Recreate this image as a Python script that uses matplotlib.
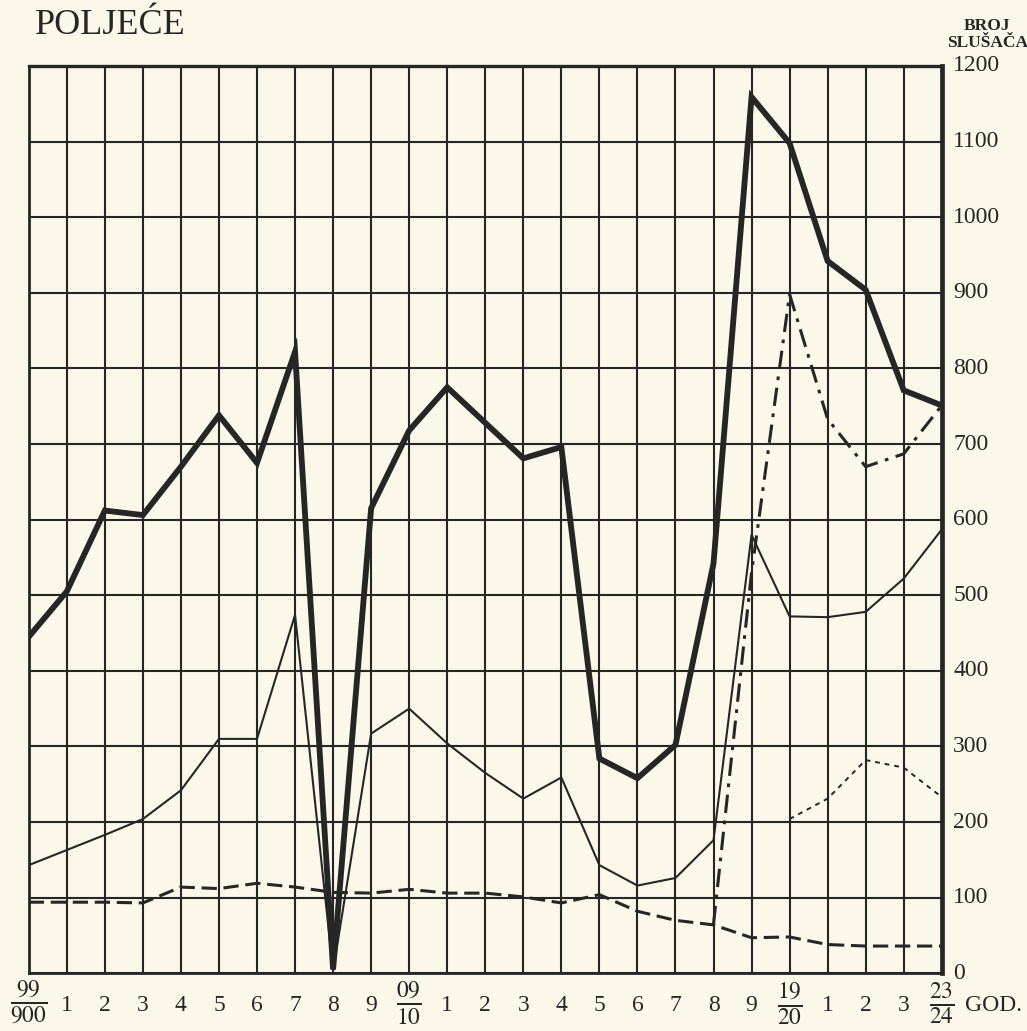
import numpy as np
import matplotlib
matplotlib.use("Agg")
import matplotlib.pyplot as plt

# school years 1899/1900 .. 1923/24
years = list(range(25))
year_labels = [r"$\frac{99}{900}$", "1", "2", "3", "4", "5", "6", "7", "8", "9",
               r"$\frac{09}{10}$", "1", "2", "3", "4", "5", "6", "7", "8", "9",
               r"$\frac{19}{20}$", "1", "2", "3", r"$\frac{23}{24}$"]

nan = np.nan
# ukupno (thick line)
total = [445, 505, 612, 606, 670, 738, 675, 822, 5, 615, 718, 775, 728, 681, 696,
         284, 258, 302, 542, 1159, 1098, 942, 904, 771, 751]
# thin solid line
thin = [143, 163, 183, 204, 242, 310, 310, 474, 3, 317, 350, 304, 265, 231, 259,
        143, 116, 126, 176, 580, 472, 471, 478, 522, 587]
# heavy dashed line
dashed = [94, 94, 94, 93, 114, 112, 119, 114, 107, 106, 111, 106, 106, 101, 93,
          104, 82, 70, 64, 47, 48, 38, 36, 36, 36]
# dash-dot line (from 1917/18)
dashdot = [nan] * 18 + [65, 530, 898, 733, 670, 687, 751]
# short dotted line (from 1919/20)
dotted = [nan] * 20 + [204, 231, 282, 272, 233]

yticks = list(range(0, 1300, 100))

ink = "#262626"
paper = "#fbf8ea"
plt.rcParams["mathtext.fontset"] = "stix"
plt.rcParams["font.family"] = ["Liberation Serif", "DejaVu Serif"]

fig = plt.figure(figsize=(10.27, 10.31), dpi=100, facecolor=paper)
ax = fig.add_axes([0.028, 0.056, 0.889, 0.880])
ax.set_facecolor(paper)

ax.set_xlim(0, 24)
ax.set_ylim(0, 1200)

# grid
for x in years:
    ax.axvline(x, color=ink, lw=1.5, zorder=1)
for y in yticks:
    ax.axhline(y, color=ink, lw=1.5, zorder=1)

for side in ["left", "bottom"]:
    ax.spines[side].set_linewidth(2.0)
ax.spines["top"].set_linewidth(2.4)
ax.spines["right"].set_linewidth(3.4)
for s in ax.spines.values():
    s.set_color(ink)

ax.plot(years, total, color=ink, lw=4.2, solid_joinstyle="miter", zorder=5)
ax.plot(years, thin, color=ink, lw=1.5, zorder=4)
ax.plot(years, dashed, color=ink, lw=2.2, dashes=(5, 2.2), zorder=4)
ax.plot(years, dashdot, color=ink, lw=2.2, dashes=(6, 2.5, 1.2, 2.5), zorder=4)
ax.plot(years, dotted, color=ink, lw=1.4, dashes=(2.5, 2.5), zorder=4)

ax.set_xticks([])
ax.set_yticks([])

# right-hand scale
for y in yticks:
    ax.text(24.3, y, str(y), fontsize=17, color=ink, ha="left", va="center")
ax.text(25.2, 1220, "BROJ\nSLUŠAČA", fontsize=12.5, color=ink, fontweight="bold",
        ha="center", va="bottom", linespacing=1.05)

# bottom year labels
for x, lab in zip(years, year_labels):
    if lab.startswith("$"):
        ax.text(x, -40, lab, fontsize=24, color=ink, ha="center", va="center")
    else:
        ax.text(x, -42, lab, fontsize=17, color=ink, ha="center", va="center")
ax.text(24.6, -42, "GOD.", fontsize=17, color=ink, ha="left", va="center")

fig.text(0.034, 0.975, "POLJEĆE", fontsize=26, color=ink, ha="left", va="center")

fig.savefig("out.png", dpi=100, facecolor=paper)
